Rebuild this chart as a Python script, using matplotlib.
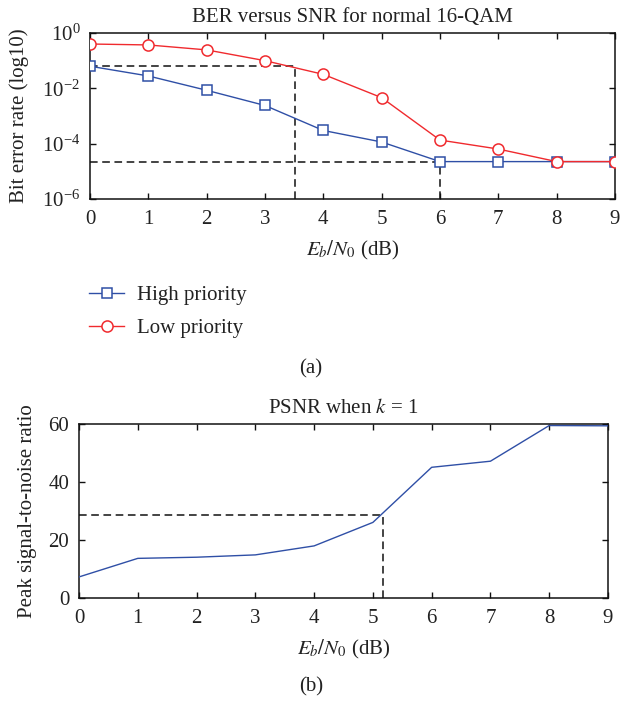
import matplotlib
matplotlib.use("Agg")
import matplotlib.pyplot as plt
from matplotlib.lines import Line2D

# ---- data -------------------------------------------------------------
snr_db = [0, 1, 2, 3, 4, 5, 6, 7, 8, 9]
ber_high = [0.063, 0.028, 0.0085, 0.0024, 3.0e-4, 1.15e-4, 2.25e-5, 2.25e-5, 2.25e-5, 2.25e-5]
ber_low = [0.40, 0.37, 0.245, 0.10, 0.032, 0.0046, 1.35e-4, 6.4e-5, 2.25e-5, 2.25e-5]
psnr = [7.3, 13.7, 14.1, 14.9, 18.0, 26.1, 45.1, 47.2, 59.5, 59.4]

# reference guides
ber_guide_snr = 3.52          # SNR where low priority reaches high-priority BER at 0 dB
psnr_guide_snr = 5.17
psnr_guide_val = 28.7

series_labels = ["High priority", "Low priority"]

# ---- style ------------------------------------------------------------
plt.rcParams["font.family"] = ["Liberation Serif", "DejaVu Serif"]
plt.rcParams["mathtext.fontset"] = "stix"
FS = 15
plt.rcParams["font.size"] = FS
TXT = "#222222"
BLUE = "#2f4fa6"
RED = "#f02a2e"

fig = plt.figure(figsize=(6.22, 7.02), dpi=100)

ax1 = fig.add_axes([0.1447, 0.7165, 0.844, 0.2365])
ax2 = fig.add_axes([0.127, 0.148, 0.8505, 0.2479])


def style_axes(ax):
    for s in ax.spines.values():
        s.set_linewidth(1.1)
        s.set_color("#111111")
    ax.tick_params(direction="in", top=True, right=True, length=4.5, width=1.0,
                   labelsize=FS, colors="#111111", labelcolor=TXT)
    ax.tick_params(axis="x", pad=8)
    ax.tick_params(axis="y", pad=7)
    ax.tick_params(which="minor", length=0)


dash = (0, (5, 3))

# ---- (a) BER ----------------------------------------------------------
ax1.plot(snr_db, ber_high, color=BLUE, lw=1.0, marker="s", ms=6.5,
         mfc="white", mec=BLUE, mew=1.1, zorder=3)
ax1.plot(snr_db, ber_low, color=RED, lw=1.0, marker="o", ms=8,
         mfc="white", mec=RED, mew=1.1, zorder=4)
ax1.plot([snr_db[0], ber_guide_snr], [ber_high[0], ber_high[0]], color="#111111", lw=1.1, ls=dash, zorder=2)
ax1.plot([ber_guide_snr, ber_guide_snr], [1e-6, ber_high[0]], color="#111111", lw=1.1, ls=dash, zorder=2)
ax1.plot([snr_db[0], snr_db[6]], [ber_high[6], ber_high[6]], color="#111111", lw=1.1, ls=dash, zorder=2)
ax1.plot([snr_db[6], snr_db[6]], [1e-6, ber_high[6]], color="#111111", lw=1.1, ls=dash, zorder=2)
ax1.set_yscale("log")
ax1.set_xlim(0, 9)
ax1.set_ylim(1e-6, 1)
ax1.set_xticks(range(10))
ax1.set_yticks([1e-6, 1e-4, 1e-2, 1])
style_axes(ax1)
ax1.set_title("BER versus SNR for normal 16-QAM", fontsize=FS, color=TXT, pad=8)
ax1.set_ylabel("Bit error rate (log10)", fontsize=FS, color=TXT, labelpad=9)
ax1.set_xlabel(r"$E_b/N_0$ (dB)", fontsize=FS, color=TXT, labelpad=7)

handles = [
    Line2D([], [], color=BLUE, lw=1.0, marker="s", ms=6.5, mfc="white", mec=BLUE, mew=1.1),
    Line2D([], [], color=RED, lw=1.0, marker="o", ms=8, mfc="white", mec=RED, mew=1.1),
]
fig.legend(handles, series_labels, loc="center left", bbox_to_anchor=(0.143, 0.5556),
           bbox_transform=fig.transFigure, frameon=False, fontsize=FS,
           handlelength=1.7, handletextpad=0.63, labelspacing=0.64,
           borderpad=0, borderaxespad=0, labelcolor=TXT)

fig.text(0.5, 0.474, "(a)", ha="center", va="center", fontsize=FS, color=TXT)

# ---- (b) PSNR ---------------------------------------------------------
ax2.plot(snr_db, psnr, color=BLUE, lw=1.0, zorder=3)
ax2.plot([snr_db[0], psnr_guide_snr], [psnr_guide_val, psnr_guide_val], color="#111111", lw=1.1, ls=dash, zorder=2)
ax2.plot([psnr_guide_snr, psnr_guide_snr], [0, psnr_guide_val], color="#111111", lw=1.1, ls=dash, zorder=2)
ax2.set_xlim(0, 9)
ax2.set_ylim(0, 60)
ax2.set_xticks(range(10))
ax2.set_yticks([0, 20, 40, 60])
style_axes(ax2)
ax2.set_title(r"PSNR when $k$ = 1", fontsize=FS, color=TXT, pad=8)
ax2.set_ylabel("Peak signal-to-noise ratio", fontsize=FS, color=TXT, labelpad=8)
ax2.set_xlabel(r"$E_b/N_0$ (dB)", fontsize=FS, color=TXT, labelpad=7)

fig.text(0.5, 0.0214, "(b)", ha="center", va="center", fontsize=FS, color=TXT)

fig.savefig("out.png", dpi=100)
